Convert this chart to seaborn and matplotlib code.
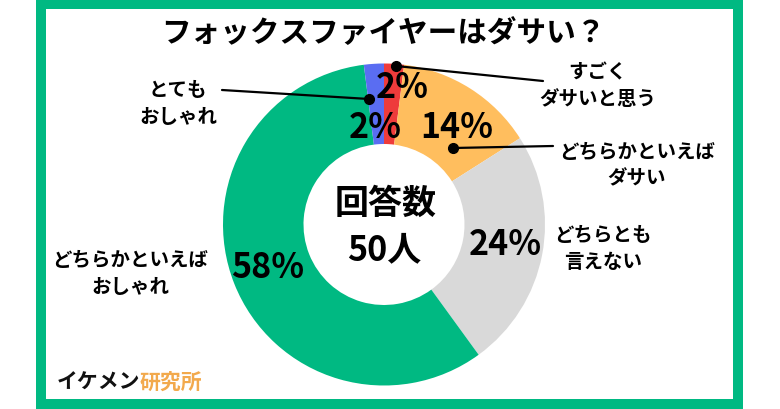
import numpy as np
import matplotlib
matplotlib.use("Agg")
from matplotlib import pyplot as plt
from matplotlib.patches import Rectangle
import seaborn as sns

sns.set_theme(style="white")
plt.rcParams['font.family'] = ['Noto Sans CJK JP', 'DejaVu Sans']
plt.rcParams['text.color'] = 'black'

# data (clockwise from 12 o'clock)
categories = ['すごく\nダサいと思う', 'どちらかといえば\nダサい', 'どちらとも\n言えない',
              'どちらかといえば\nおしゃれ', 'とても\nおしゃれ']
values = [2, 14, 24, 58, 2]
colors = ['#EE3B3B', '#FFBE5E', '#D9D9D9', '#00B982', '#5A6DF2']
title = 'フォックスファイヤーはダサい？'
total_n = 50

GREEN = '#00B982'
W, H = 780, 410
cx, cy, R = 384, 225.5, 161

fig = plt.figure(figsize=(W / 100, H / 100), dpi=100)
ax = fig.add_axes([0, 0, 1, 1])

# donut, y axis inverted -> startangle -90 + counterclock gives clockwise from top on screen
ax.pie(values, colors=colors, startangle=-90, counterclock=True,
       radius=R, center=(cx, cy),
       wedgeprops=dict(width=R / 2, edgecolor='none', linewidth=0))
ax.set_xlim(0, W)
ax.set_ylim(H, 0)
ax.set_aspect('auto')
ax.axis('off')

# percent labels
pct_pos = [(402, 88), (457, 128), (505, 245), (268, 268), (375, 127)]
for v, (x, y) in zip(values, pct_pos):
    ax.text(x, y, f'{v}%', fontsize=24.5, fontweight='bold', ha='center', va='center')

# center text
ax.text(386, 203, '回答数', fontsize=24.5, fontweight='bold', ha='center', va='center')
ax.text(384, 250, f'{total_n}人', fontsize=24.5, fontweight='bold', ha='center', va='center')

# category labels
cat_pos = [(598, 86), (637, 166), (603, 249), (130, 274), (178, 104)]
for lab, (x, y) in zip(categories, cat_pos):
    ax.text(x, y, lab, fontsize=14, fontweight='bold', ha='center', va='center',
            linespacing=1.5)

# leader lines with dots
leaders = [((396, 67), (543, 82)), ((453, 149), (553, 147)), ((369, 100), (222, 91))]
for (x0, y0), (x1, y1) in leaders:
    ax.plot([x0, x1], [y0, y1], color='black', lw=1.6, solid_capstyle='round')
    ax.plot(x0, y0, 'o', color='black', markersize=7)

# title
ax.text(383, 33, title, fontsize=21.3, fontweight='bold', ha='center', va='center')

# watermark
ax.text(57, 382, 'イケメン', fontsize=15, fontweight='bold', ha='left', va='center', color='#111111')
ax.text(140, 382, '研究所', fontsize=15, fontweight='bold', ha='left', va='center', color='#F2A94C')

# frame
ax.add_patch(Rectangle((41, 5), 697, 400, fill=False, edgecolor=GREEN, lw=7.2, zorder=5))

fig.savefig('out.png', dpi=100, facecolor='white')
